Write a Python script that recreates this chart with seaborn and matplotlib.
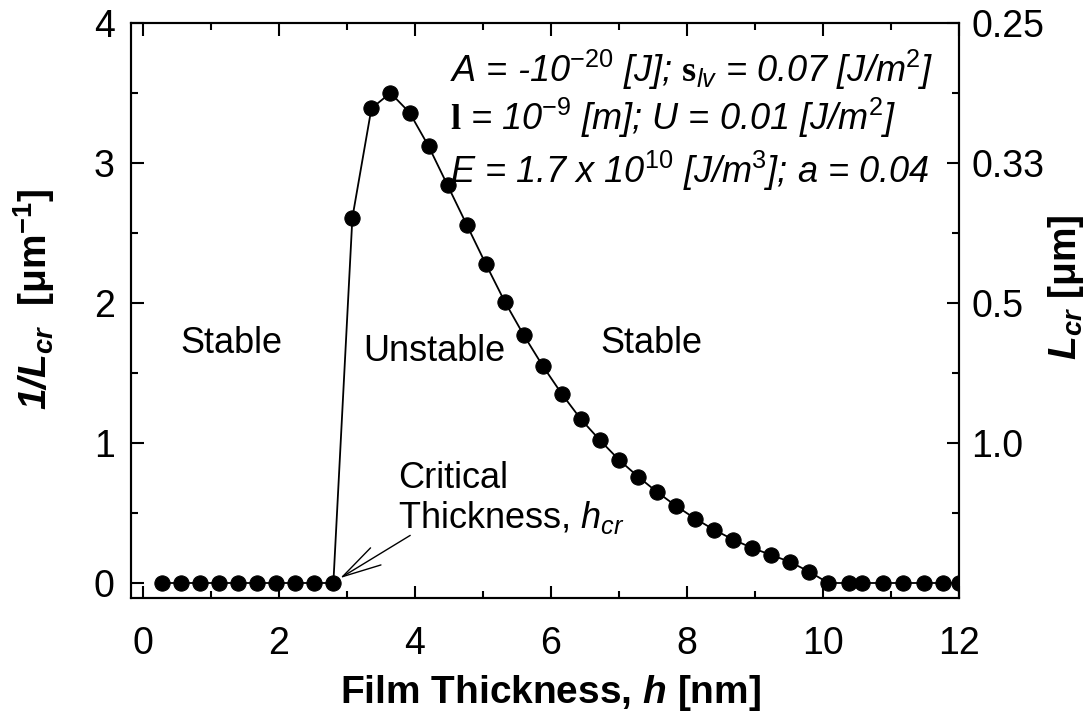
import matplotlib
matplotlib.use("Agg")
import matplotlib.pyplot as plt
import seaborn as sns
import pandas as pd

# -----------------------------------------------------
# Data
# -----------------------------------------------------

h_nm = [0.28, 0.56, 0.84, 1.12, 1.40, 1.68, 1.96, 2.24, 2.52, 2.80,
        3.08, 3.36, 3.64, 3.92, 4.20, 4.48, 4.76, 5.04, 5.32, 5.60,
        5.88, 6.16, 6.44, 6.72, 7.00, 7.28, 7.56, 7.84, 8.12, 8.40,
        8.68, 8.96, 9.24, 9.52, 9.80, 10.08,
        10.38, 10.58, 10.89, 11.18, 11.48, 11.77, 12.00]

inv_Lcr = [0, 0, 0, 0, 0, 0, 0, 0, 0, 0,
           2.61, 3.39, 3.50, 3.36, 3.12, 2.84, 2.56, 2.28, 2.01, 1.77,
           1.55, 1.35, 1.17, 1.02, 0.88, 0.76, 0.65, 0.55, 0.46, 0.38,
           0.31, 0.25, 0.20, 0.15, 0.08, 0.0,
           0, 0, 0, 0, 0, 0, 0]

right_ticks = [1, 2, 3, 4]
right_labels = ["1.0", "0.5", "0.33", "0.25"]

df = pd.DataFrame({"h": h_nm, "inv": inv_Lcr})

# -----------------------------------------------------
# Style
# -----------------------------------------------------

sns.set_style("ticks")
plt.rcParams["font.family"] = ["Liberation Sans", "DejaVu Sans"]
for key in ["text.color", "axes.labelcolor", "xtick.color", "ytick.color", "axes.edgecolor"]:
    plt.rcParams[key] = "black"
plt.rcParams["mathtext.fontset"] = "custom"
plt.rcParams["mathtext.rm"] = "Liberation Sans"
plt.rcParams["mathtext.it"] = "Liberation Sans:italic"
plt.rcParams["mathtext.bf"] = "Liberation Sans:bold"
plt.rcParams["mathtext.sf"] = "Liberation Sans:bold:italic"
plt.rcParams["mathtext.tt"] = "Liberation Serif:bold"
plt.rcParams["mathtext.cal"] = "Liberation Sans:italic"

fig = plt.figure(figsize=(10.86, 7.17), dpi=100)
ax = fig.add_axes([0.121, 0.166, 0.762, 0.802])

sns.lineplot(data=df, x="h", y="inv", ax=ax, color="black", linewidth=1.3,
             marker="o", markersize=11, markeredgecolor="black", zorder=3)

ax.set_xlim(-0.17, 12)
ax.set_ylim(-0.107, 4)

ax.set_xticks([0, 2, 4, 6, 8, 10, 12])
ax.set_xticks([1, 3, 5, 7, 9, 11], minor=True)
ax.set_yticks([0, 1, 2, 3, 4])
ax.set_yticks([0.5, 1.5, 2.5, 3.5], minor=True)

ax.tick_params(which="both", direction="in", top=True, right=False,
               width=1.5, labelsize=27, color="black")
ax.tick_params(which="major", length=9)
ax.tick_params(which="minor", length=5)
ax.tick_params(axis="x", pad=20)
ax.tick_params(axis="y", pad=12)

for s in ax.spines.values():
    s.set_linewidth(1.5)
    s.set_color("black")

# right axis: L_cr
ax2 = ax.twinx()
ax2.set_ylim(ax.get_ylim())
ax2.set_yticks(right_ticks)
ax2.set_yticklabels(right_labels)
ax2.set_yticks([0.5, 1.5, 2.5, 3.5], minor=True)
ax2.tick_params(which="both", direction="in", width=1.5, labelsize=27, pad=9)
ax2.tick_params(which="major", length=9)
ax2.tick_params(which="minor", length=5)
for s in ax2.spines.values():
    s.set_linewidth(1.5)
    s.set_color("black")

# -----------------------------------------------------
# Labels
# -----------------------------------------------------

ax.set_xlabel(r"Film Thickness, $\mathsf{h}$ [nm]", fontsize=28, fontweight="bold")
ax.xaxis.set_label_coords(0.506, -0.13)

ax.set_ylabel(r"$\mathsf{1/L_{cr}}$  [μm$^{\mathbf{-1}}$]", fontsize=28, fontweight="bold")
ax.yaxis.set_label_coords(-0.09, 0.52)

ax2.set_ylabel(r"$\mathsf{L_{cr}}$ [μm]", fontsize=28, fontweight="bold")
ax2.yaxis.set_label_coords(1.105, 0.54)

# -----------------------------------------------------
# Annotations
# -----------------------------------------------------

ax.text(1.30, 1.71, "Stable", fontsize=26, ha="center", va="center")
ax.text(4.29, 1.65, "Unstable", fontsize=26, ha="center", va="center")
ax.text(7.48, 1.71, "Stable", fontsize=26, ha="center", va="center")

ax.text(3.75, 0.676, "Critical", fontsize=26, ha="left", va="baseline")
ax.text(3.75, 0.39, r"Thickness, $h_{cr}$", fontsize=26, ha="left", va="baseline")

ax.annotate("", xy=(2.9, 0.035), xytext=(3.93, 0.34),
            arrowprops=dict(arrowstyle="->,head_length=1.4,head_width=0.36",
                            color="black", lw=1.0, shrinkA=0, shrinkB=0,
                            mutation_scale=20))

params = [
    r"A = -10$^{\mathit{-20}}$ [J]; $\mathtt{s}_{\mathit{lv}}$ = 0.07 [J/m$^{\mathit{2}}$]",
    r"$\mathtt{l}$ = 10$^{\mathit{-9}}$ [m]; U = 0.01 [J/m$^{\mathit{2}}$]",
    r"E = 1.7 x 10$^{\mathit{10}}$ [J/m$^{\mathit{3}}$]; a = 0.04",
]
param_y = [0.897, 0.814, 0.722]
for txt, yy in zip(params, param_y):
    ax.text(0.385, yy, txt, transform=ax.transAxes, fontsize=26,
            style="italic", ha="left", va="baseline", zorder=4)

fig.savefig("out.png", dpi=100)
